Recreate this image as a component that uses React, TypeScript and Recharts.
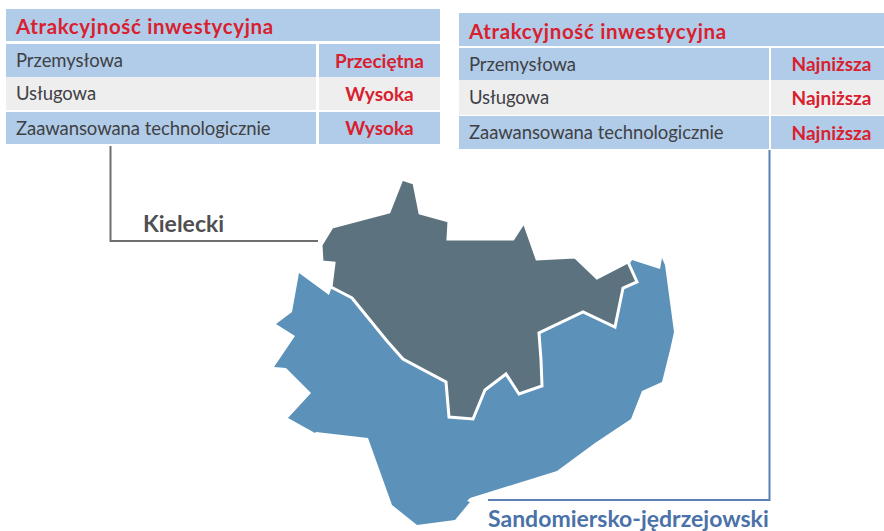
import React from 'react';
import { ScatterChart, Scatter, XAxis, YAxis } from 'recharts';

const WIDTH = 884;
const HEIGHT = 531;

// outlines, in picture pixels
const sandomierskoOutline = [
  { x: 299, y: 273 }, { x: 329, y: 295 }, { x: 331, y: 289 }, { x: 400, y: 300 }, { x: 600, y: 295 }, { x: 620, y: 280 },
  { x: 632, y: 260 }, { x: 660, y: 269 },
  { x: 662, y: 258 }, { x: 665, y: 265 }, { x: 674, y: 332 }, { x: 670, y: 350 }, { x: 662, y: 382 },
  { x: 642, y: 391 }, { x: 631, y: 419 }, { x: 595, y: 443 }, { x: 557, y: 471 }, { x: 470, y: 498 },
  { x: 467, y: 501 }, { x: 470, y: 502 }, { x: 455, y: 520 }, { x: 417, y: 525 }, { x: 392, y: 505 },
  { x: 368, y: 438 }, { x: 316, y: 432 }, { x: 315, y: 433 }, { x: 288, y: 418 }, { x: 311, y: 393 },
  { x: 286, y: 368 }, { x: 274, y: 367 }, { x: 295, y: 336 }, { x: 276, y: 324 }, { x: 292, y: 312 },
];

const kieleckiOutline = [
  { x: 402, y: 179 }, { x: 414, y: 183 }, { x: 420, y: 213 }, { x: 449, y: 221 }, { x: 448, y: 239 },
  { x: 513, y: 239 }, { x: 524, y: 222 }, { x: 537, y: 259 }, { x: 575, y: 257 }, { x: 597, y: 278 },
  { x: 628, y: 262 }, { x: 637, y: 282 }, { x: 623, y: 288 }, { x: 615, y: 327 }, { x: 583, y: 312 },
  { x: 539, y: 333 }, { x: 541, y: 360 }, { x: 542, y: 386 }, { x: 519, y: 394 }, { x: 506, y: 374 },
  { x: 485, y: 390 }, { x: 473, y: 419 }, { x: 449, y: 417 }, { x: 446, y: 382 }, { x: 403, y: 359 },
  { x: 387, y: 341 }, { x: 352, y: 298 }, { x: 331, y: 287 }, { x: 334, y: 263 }, { x: 322, y: 262 },
  { x: 321, y: 245 }, { x: 332, y: 227 }, { x: 389, y: 212 },
];

const kieleckiLeader = [{ x: 110.5, y: 146 }, { x: 110.5, y: 241 }, { x: 318, y: 241 }];
const sandomierskoLeader = [{ x: 769.5, y: 150 }, { x: 769.5, y: 500 }, { x: 488, y: 500 }];

const tableTitle = 'Atrakcyjność inwestycyjna';
const categories = ['Przemysłowa', 'Usługowa', 'Zaawansowana technologicznie'];
const kieleckiRatings = ['Przeciętna', 'Wysoka', 'Wysoka'];
const sandomierskoRatings = ['Najniższa', 'Najniższa', 'Najniższa'];

const BLUE = '#b1cce8';
const GREY = '#eeeeee';
const RED = '#d9202f';

const polygon = (fill: string, stroke: string, strokeWidth: number) => (props: any) => {
  const d = props.points.map((p: any, i: number) => `${i ? 'L' : 'M'}${p.x},${p.y}`).join(' ') + ' Z';
  return <path d={d} fill={fill} stroke={stroke} strokeWidth={strokeWidth} strokeLinejoin="miter" />;
};

const Cell: React.FC<any> = ({ left, top, width, height, bg, color, bold, align, size, pad, spacing, shift = 0, children }) => (
  <div
    style={{
      position: 'absolute',
      left,
      top,
      width,
      height,
      lineHeight: `${height + shift}px`,
      background: bg,
      color,
      fontWeight: bold ? 700 : 400,
      fontSize: size,
      letterSpacing: spacing,
      textAlign: align,
      paddingLeft: pad,
      boxSizing: 'border-box',
      whiteSpace: 'nowrap',
      overflow: 'hidden',
    }}
  >
    {children}
  </div>
);

const RatingTable: React.FC<any> = ({ x, right, split, tops, ratings, valueLeft, valuePad = 0 }) => (
  <>
    <Cell left={x} top={tops[0][0]} width={right - x} height={tops[0][1] - tops[0][0]} bg={BLUE} color={RED} bold size={20.5} spacing={0.65} pad={10} shift={3}>
      {tableTitle}
    </Cell>
    {categories.map((c, i) => {
      const [t, b] = tops[i + 1];
      const bg = i === 1 ? GREY : BLUE;
      return (
        <React.Fragment key={c}>
          <Cell left={x} top={t} width={split - x} height={b - t} bg={bg} color="#3f4145" size={18.5} spacing={-0.07} pad={10}>
            {c}
          </Cell>
          <Cell left={valueLeft} top={t} width={right - valueLeft} height={b - t} bg={bg} color={RED} bold size={19} align="center" pad={valuePad}>
            {ratings[i]}
          </Cell>
        </React.Fragment>
      );
    })}
  </>
);

const App: React.FC = () => (
  <div style={{ position: 'absolute', left: 0, top: 0, width: WIDTH, height: HEIGHT, overflow: 'hidden', background: '#fff', fontFamily: 'Lato' }}>
    <ScatterChart width={WIDTH} height={HEIGHT} margin={{ top: 0, right: 0, bottom: 0, left: 0 }}>
      <XAxis type="number" dataKey="x" domain={[0, WIDTH]} hide />
      <YAxis type="number" dataKey="y" domain={[0, HEIGHT]} reversed hide />
      <Scatter data={sandomierskoOutline} isAnimationActive={false} shape={() => <g />} line={polygon('#5c91b9', '#5c91b9', 0)} />
      <Scatter data={kieleckiOutline} isAnimationActive={false} shape={() => <g />} line={polygon('#5c737f', '#ffffff', 3)} />
      <Scatter data={kieleckiLeader} isAnimationActive={false} shape={() => <g />} line={{ stroke: '#6e6e6e', strokeWidth: 2 }} />
      <Scatter data={sandomierskoLeader} isAnimationActive={false} shape={() => <g />} line={{ stroke: '#5b80b4', strokeWidth: 2 }} />
    </ScatterChart>

    <RatingTable
      x={6}
      right={440}
      split={316}
      valueLeft={319}
      ratings={kieleckiRatings}
      tops={[[9, 41], [44, 77], [77, 110], [112, 144]]}
    />
    <RatingTable
      x={459}
      right={884}
      split={769}
      valueLeft={771}
      valuePad={8}
      ratings={sandomierskoRatings}
      tops={[[13, 46], [48, 80], [80, 115], [115.5, 148.5]]}
    />

    <div style={{ position: 'absolute', left: 143, top: 209, fontSize: 23, fontWeight: 700, color: '#4f4f52', whiteSpace: 'nowrap' }}>Kielecki</div>
    <div style={{ position: 'absolute', left: 488, top: 504, fontSize: 23, fontWeight: 700, color: '#4a72a8', whiteSpace: 'nowrap' }}>Sandomiersko-jędrzejowski</div>
  </div>
);

export default App;
